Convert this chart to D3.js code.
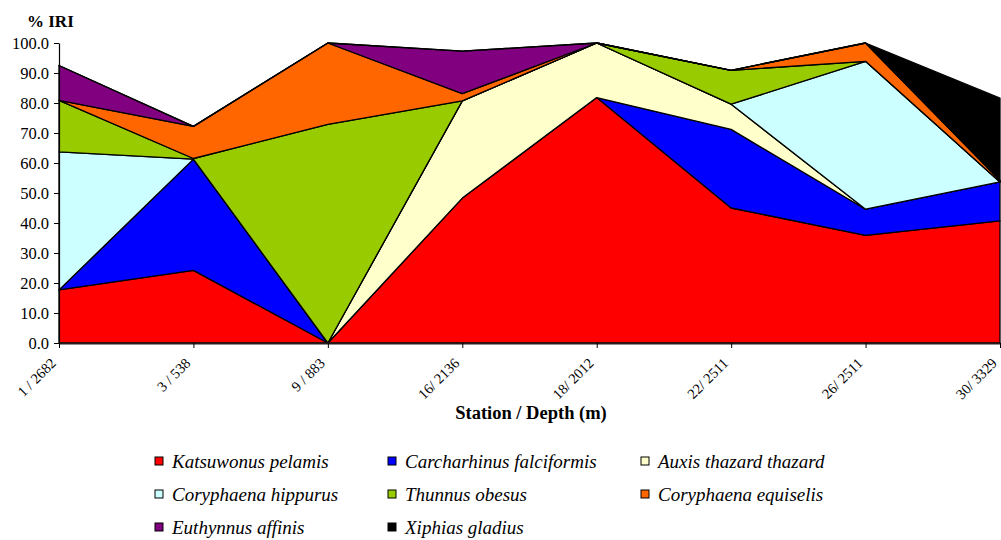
<!DOCTYPE html>
<html><head><meta charset="utf-8">
<script src="https://cdn.jsdelivr.net/npm/d3@7"></script>
<style>body{margin:0;background:#fff;} svg text{font-family:"Liberation Serif","Times New Roman",serif !important;}</style>
</head><body>
<svg id="chart" width="1001" height="540"></svg>
<script>
const stations = ["1 / 2682","3 / 538","9 / 883","16/ 2136","18/ 2012","22/ 2511","26/ 2511","30/ 3329"];
const seriesNames = ["Katsuwonus pelamis","Carcharhinus falciformis","Auxis thazard thazard","Coryphaena hippurus","Thunnus obesus","Coryphaena equiselis","Euthynnus affinis","Xiphias gladius"];
const seriesColors = ["#ff0000","#0000ff","#ffffcc","#ccffff","#99cc00","#ff6600","#800080","#000000"];
const katsuwonus   = [17.7, 24.2, 0, 48.3, 81.8, 45.0, 35.9, 40.7];
const carcharhinus = [0, 37.1, 0, 0, 0, 26.2, 8.7, 13.0];
const auxis        = [0, 0, 0, 32.4, 18.2, 8.4, 0, 0];
const hippurus     = [46.0, 0, 0, 0, 0, 0, 49.3, 0];
const thunnus      = [17.2, 0.2, 72.9, 0, 0, 11.3, 0, 0];
const equiselis    = [0, 10.7, 27.1, 2.4, 0, 0, 6.1, 0.5];
const euthynnus    = [11.6, 0, 0, 14.2, 0, 0, 0, 0];
const xiphias      = [0, 0, 0, 0, 0, 0, 0, 27.4];
const yTicks = [0,10,20,30,40,50,60,70,80,90,100];

const seriesValues = [katsuwonus, carcharhinus, auxis, hippurus, thunnus, equiselis, euthynnus, xiphias];
const rows = stations.map((s,i)=>{const r={station:s}; seriesNames.forEach((n,j)=>r[n]=seriesValues[j][i]); return r;});

const svg = d3.select("#chart");
const m = {left:59, right:1000, top:43, bottom:343};
const x = d3.scalePoint().domain(stations).range([m.left, m.right]);
const y = d3.scaleLinear().domain([0,100]).range([m.bottom, m.top]);

const stack = d3.stack().keys(seriesNames)(rows);
const area = d3.area().x(d=>x(d.data.station)).y0(d=>y(d[0])).y1(d=>y(d[1]));
svg.append("g").selectAll("path").data(stack).join("path")
  .attr("d", area)
  .attr("fill",(d,i)=>seriesColors[i])
  .attr("stroke","#000").attr("stroke-width",1.3).attr("stroke-linejoin","round");

// y axis
const ya = svg.append("g").attr("transform",`translate(${m.left},0)`)
  .call(d3.axisLeft(y).tickValues(yTicks).tickFormat(d3.format(".1f")).tickSize(5).tickSizeOuter(0));
ya.select(".domain").attr("stroke","#000").attr("stroke-width",1.2);
ya.selectAll("text").attr("font-size",16.5).attr("fill","#000").attr("dx",-2);

// x axis
const xa = svg.append("g").attr("transform",`translate(0,${m.bottom})`)
  .call(d3.axisBottom(x).tickSize(5).tickSizeOuter(0));
xa.select(".domain").attr("stroke","#2a1a1a").attr("stroke-width",2.2);
xa.selectAll("text").attr("font-size",14.5).attr("fill","#000")
  .attr("text-anchor","end").attr("dy",0).attr("y",0)
  .attr("transform","translate(-2.5,21) rotate(-45)");

svg.append("text").attr("x",531).attr("y",419).attr("text-anchor","middle").attr("font-size",18.5).attr("font-weight","bold").text("Station / Depth (m)");
svg.append("text").attr("x",27).attr("y",27).attr("font-size",17).attr("font-weight","bold").text("% IRI");

// legend
const colX = [155, 388, 641];
const rowY = [461, 494, 527];
const lg = svg.append("g").selectAll("g").data(seriesNames).join("g")
  .attr("transform",(d,i)=>`translate(${colX[i%3]},${rowY[Math.floor(i/3)]})`);
lg.append("rect").attr("x",0).attr("y",-4).attr("width",8).attr("height",8)
  .attr("fill",(d,i)=>seriesColors[i]).attr("stroke","#000").attr("stroke-width",1);
lg.append("text").attr("x",17).attr("y",6.5).attr("font-size",19).attr("font-style","italic").text(d=>d);
</script>
</body></html>
